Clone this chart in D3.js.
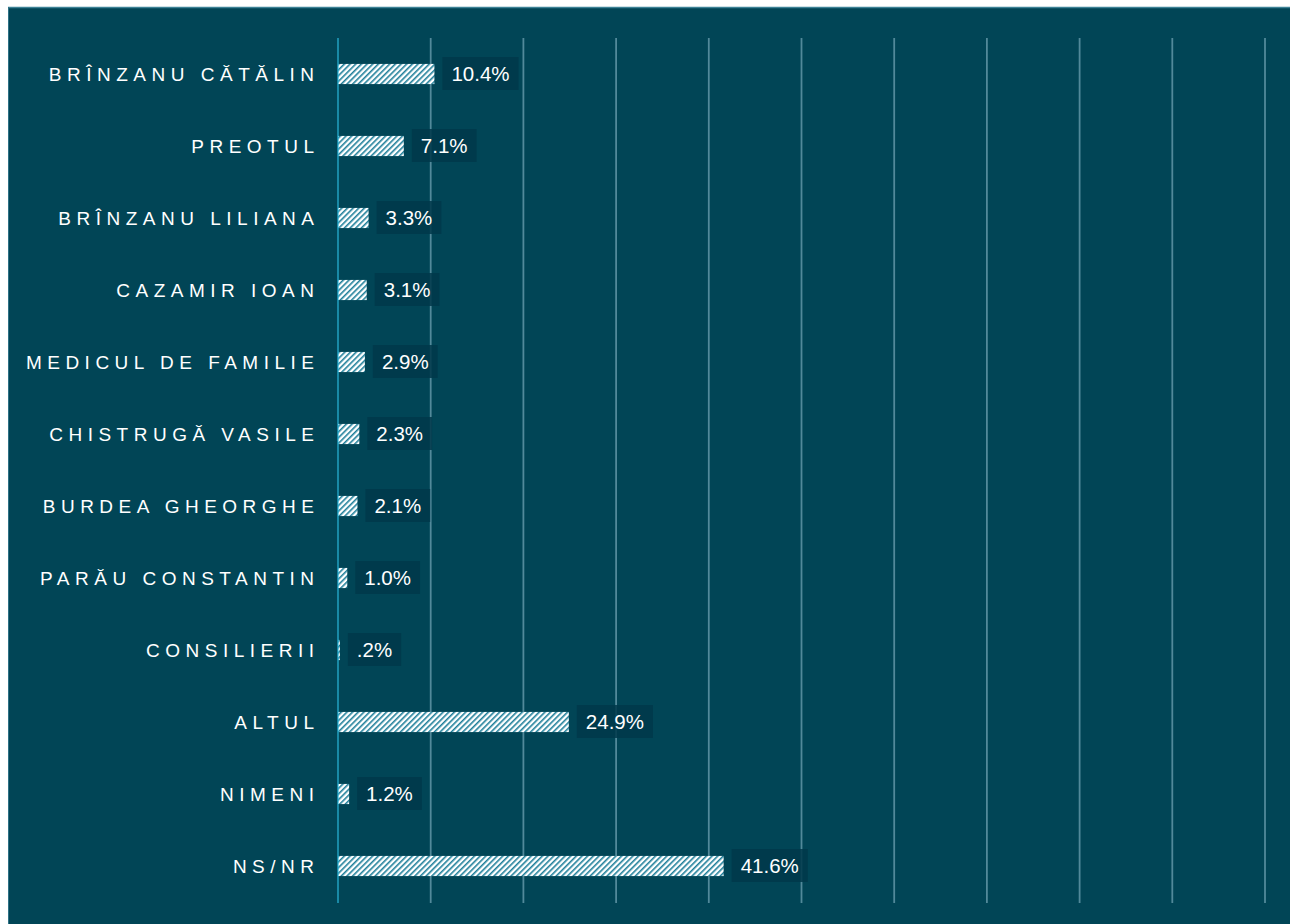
<!DOCTYPE html>
<html lang="ro">
  <head>
    <meta charset="UTF-8" />
    <title>Chart</title>
    <style>
      body { margin: 0; background: #ffffff; }
    </style>
    <script src="https://d3js.org/d3.v7.min.js"></script>
  </head>
  <body>
    <div class="d3Chart"></div>
    <script>
      const categories = [
        'BRÎNZANU CĂTĂLIN', 'PREOTUL', 'BRÎNZANU LILIANA', 'CAZAMIR IOAN',
        'MEDICUL DE FAMILIE', 'CHISTRUGĂ VASILE', 'BURDEA GHEORGHE',
        'PARĂU CONSTANTIN', 'CONSILIERII', 'ALTUL', 'NIMENI', 'NS/NR'
      ]
      const values = [10.4, 7.1, 3.3, 3.1, 2.9, 2.3, 2.1, 1.0, 0.2, 24.9, 1.2, 41.6]
      const valueLabels = ['10.4%', '7.1%', '3.3%', '3.1%', '2.9%', '2.3%', '2.1%', '1.0%', '.2%', '24.9%', '1.2%', '41.6%']
      const ticks = [0, 10, 20, 30, 40, 50, 60, 70, 80, 90, 100]

      const width = 1290
      const height = 924
      const svg = d3.select('.d3Chart').append('svg')
        .attr('width', width).attr('height', height)

      // panneau
      svg.append('rect').attr('x', 8).attr('y', 7).attr('width', width - 8).attr('height', height - 7)
        .attr('fill', '#014556')
      svg.append('line').attr('x1', 8).attr('x2', width).attr('y1', 7.5).attr('y2', 7.5)
        .attr('stroke', '#3d8296').attr('stroke-width', 1.5)
      svg.append('line').attr('x1', 8.5).attr('x2', 8.5).attr('y1', 7).attr('y2', height)
        .attr('stroke', '#2f7286').attr('stroke-width', 1)

      const defs = svg.append('defs')
      const pat = defs.append('pattern').attr('id', 'hatch')
        .attr('patternUnits', 'userSpaceOnUse').attr('width', 4).attr('height', 4)
        .attr('patternTransform', 'rotate(45)')
      pat.append('rect').attr('width', 4).attr('height', 4).attr('fill', '#ffffff')
      pat.append('rect').attr('width', 1.6).attr('height', 4).attr('fill', '#1f7f9a')

      const x = d3.scaleLinear().domain([0, 100]).range([338, 1265])
      const y = d3.scaleBand().domain(categories).range([38, 902]).paddingInner(0.72).paddingOuter(0.36)

      // grille
      svg.append('g').selectAll('line').data(ticks.slice(1)).join('line')
        .attr('x1', d => x(d)).attr('x2', d => x(d))
        .attr('y1', 38).attr('y2', 903)
        .attr('stroke', '#52899a').attr('stroke-width', 1.8)

      // barres
      svg.append('g').selectAll('rect').data(values).join('rect')
        .attr('x', x(0))
        .attr('y', (d, i) => y(categories[i]))
        .attr('width', d => x(d) - x(0))
        .attr('height', y.bandwidth())
        .attr('fill', 'url(#hatch)')

      // axe
      svg.append('line').attr('x1', x(0)).attr('x2', x(0)).attr('y1', 38).attr('y2', 903)
        .attr('stroke', '#2ab8dc').attr('stroke-width', 1.2)

      // catégories
      svg.append('g').selectAll('text').data(categories).join('text')
        .attr('x', 319.5)
        .attr('y', d => y(d) + y.bandwidth() / 2)
        .attr('dy', '0.36em')
        .attr('text-anchor', 'end')
        .attr('fill', '#ffffff')
        .style('font', '19px "Liberation Sans", Arial, sans-serif')
        .style('letter-spacing', '5.5px')
        .text(d => d)

      // étiquettes
      const lab = svg.append('g').selectAll('g').data(values).join('g')
        .attr('transform', (d, i) => `translate(${x(d) + 8}, ${y(categories[i]) + y.bandwidth() / 2})`)
      const txt = lab.append('text')
        .attr('x', 9).attr('dy', '0.36em')
        .attr('fill', '#ffffff')
        .style('font', '20.5px "Liberation Sans", Arial, sans-serif')
        .text((d, i) => valueLabels[i])
      txt.each(function () {
        const w = this.getComputedTextLength()
        d3.select(this.parentNode).insert('rect', 'text')
          .attr('x', 0).attr('y', -17).attr('width', w + 18).attr('height', 33)
          .attr('fill', '#00384a').attr('opacity', 0.85)
      })
    </script>
  </body>
</html>
